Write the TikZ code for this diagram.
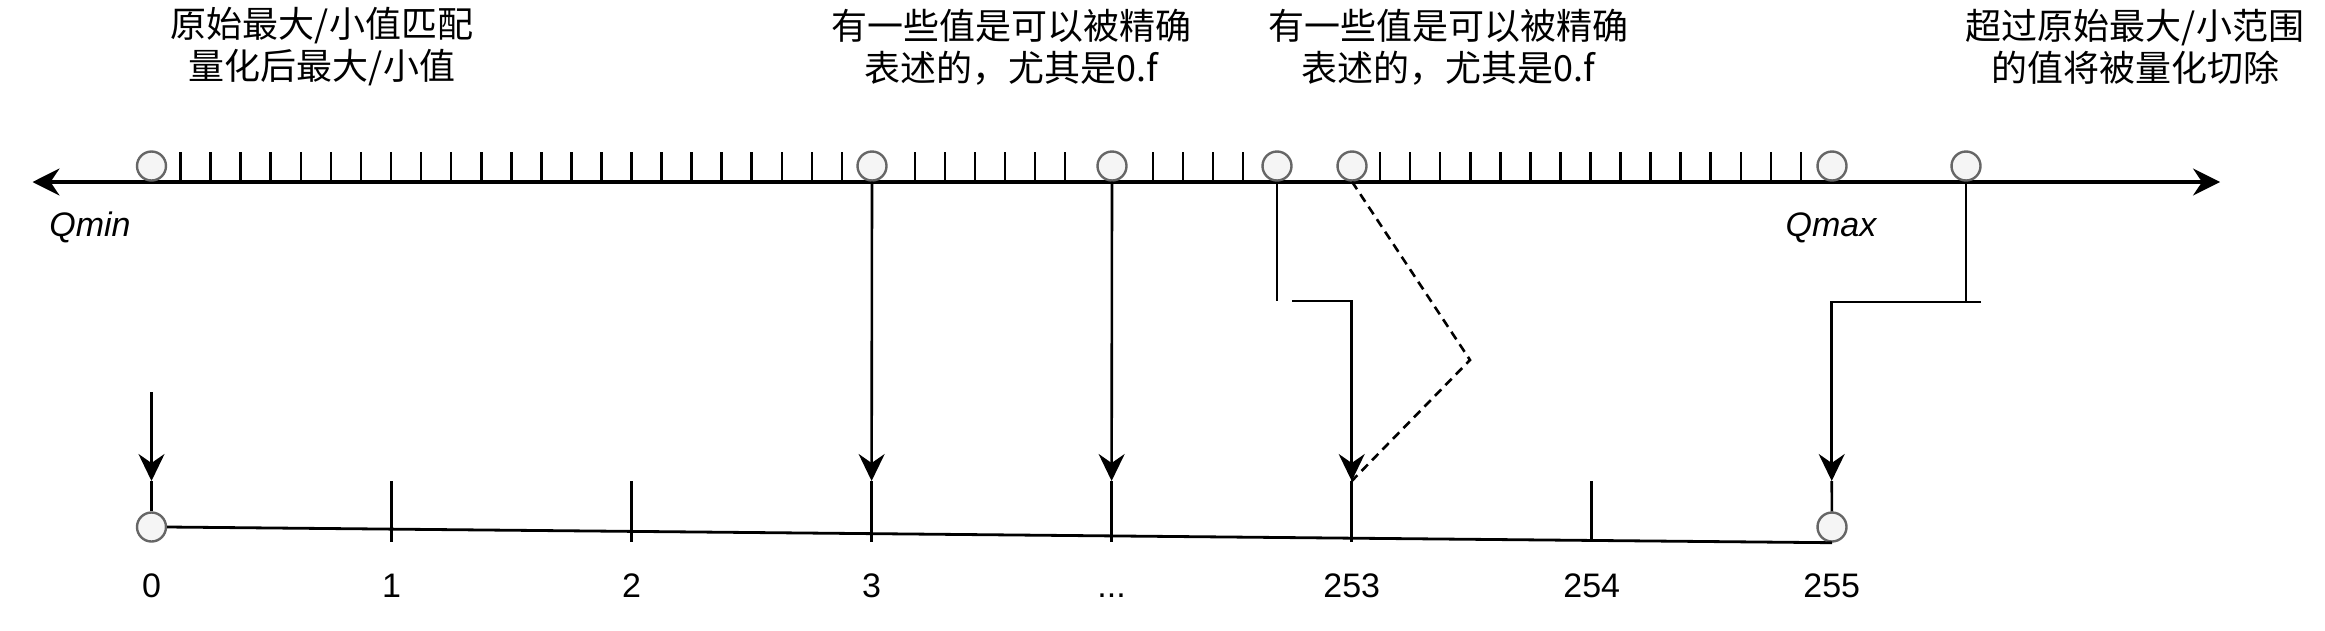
\documentclass[tikz,border=0pt]{standalone}
\usepackage{fontspec}
\setmainfont{Liberation Sans}
\newfontfamily\cjk{Noto Sans CJK SC}
\usetikzlibrary{arrows.meta}

\begin{document}
\begin{tikzpicture}[x=1pt,y=-1pt,
  dot/.style={circle,draw=black!60,fill=black!4,line width=2.4pt,minimum size=29pt,inner sep=0pt},
  conn/.style={line width=2.6pt},
  fleche/.style={conn,-{Stealth[length=27pt,width=26pt,inset=9pt]}},
  note/.style={font=\cjk\fontsize{36}{42}\selectfont,align=center,inner sep=0pt},
  chiffre/.style={font=\fontsize{34}{40}\selectfont,anchor=base,inner sep=0pt},
  borne/.style={font=\itshape\fontsize{34}{40}\selectfont,anchor=base,inner sep=0pt}]
\useasboundingbox (0,0) rectangle (2325,630);
% Textes
\node[note] (note1) at (322,47) {原始最大/小值匹配\\量化后最大/小值};
\node[note] (note2) at (1011,47) {有一些值是可以被精确\\表述的，尤其是0.f};
\node[note] (note3) at (1448,47) {有一些值是可以被精确\\表述的，尤其是0.f};
\node[note] (note4) at (2135,47) {超过原始最大/小范围\\的值将被量化切除};
% Axe des valeurs
\coordinate (gauche) at (32.5,182);
\coordinate (droite) at (2220,182);
\draw[line width=3.3pt,{Stealth[length=27pt,width=27pt,inset=9pt]}-{Stealth[length=27pt,width=27pt,inset=9pt]}] (gauche) -- (droite);
% Graduations
\foreach \i in {0,...,22} \draw[conn] ({180.6+30.06*\i},152) -- ({180.6+30.06*\i},182);
\foreach \x in {915,945,...,1065} \draw[conn] (\x,152) -- (\x,182);
\foreach \x in {1153,1183,1213,1243} \draw[conn] (\x,152) -- (\x,182);
\foreach \i in {0,...,14} \draw[conn] ({1380+30.07*\i},152) -- ({1380+30.07*\i},182);
% Points de l'axe
\node[dot] (t0) at (151.5,166) {};
\node[dot] (t3) at (872,166) {};
\node[dot] (tdots) at (1112,166) {};
\node[dot] (t252) at (1277,166) {};
\node[dot] (t253) at (1352,166) {};
\node[dot] (tmax) at (1832,166) {};
\node[dot] (tclip) at (1966,166) {};
\node[borne] (qmin) at (90,236) {Qmin};
\node[borne] (qmax) at (1831,236) {Qmax};
% Axe quantifie
\node[dot] (b0) at (151.5,527) {};
\node[dot] (b255) at (1832,527) {};
\draw[line width=2.8pt] (b0.east) -- (b255.south);
\foreach \x/\n in {151.5/0,391.6/1,631.6/2,871.6/3,1111.6/dots,1351.7/253,1591.7/254,1831.7/255}
  \coordinate (k\n) at (\x,481);
\foreach \n in {1,2,3,dots,253,254} \draw[conn] (k\n) -- ++(0,61);
\draw[conn] (k0) -- (b0);
\draw[conn] (k255) -- (b255);
\node[chiffre] (n0) at (151.5,597) {0};
\node[chiffre] (n1) at (391.6,597) {1};
\node[chiffre] (n2) at (631.6,597) {2};
\node[chiffre] (n3) at (871.6,597) {3};
\node[chiffre] (ndots) at (1111.6,597) {...};
\node[chiffre] (n253) at (1351.7,597) {253};
\node[chiffre] (n254) at (1591.7,597) {254};
\node[chiffre] (n255) at (1831.7,597) {255};
% Correspondances
\coordinate (haut0) at (151.5,392);
\draw[fleche] (haut0) -- (k0);
\draw[fleche] (t3.south) -- (k3);
\draw[fleche] (tdots.south) -- (kdots);
\coordinate (pli1) at (1277,301);
\coordinate (depart1) at (1292,301);
\draw[conn] (t252.south) -- (pli1);
\draw[fleche] (depart1) -| (k253);
\coordinate (coin) at (1470,360);
\draw[conn,dash pattern=on 9pt off 6pt] (t253.south) -- (coin) -- (k253);
% Ecretage
\coordinate (pli2) at (1966,302);
\coordinate (depart2) at (1981,302);
\draw[conn] (tclip.south) -- (pli2);
\draw[fleche] (depart2) -| (k255);
\end{tikzpicture}
\end{document}
